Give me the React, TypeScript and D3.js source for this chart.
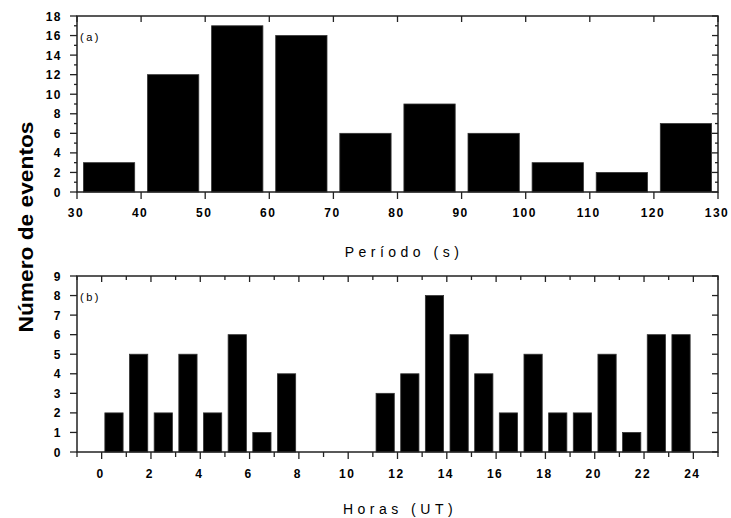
import React from "react";
import * as d3 from "d3";

const periodCenters = [35, 45, 55, 65, 75, 85, 95, 105, 115, 125];
const periodCounts = [3, 12, 17, 16, 6, 9, 6, 3, 2, 7];
const periodTicks = [30, 40, 50, 60, 70, 80, 90, 100, 110, 120, 130];
const periodYTicks = [0, 2, 4, 6, 8, 10, 12, 14, 16, 18];

const hourCenters = [0.5, 1.5, 2.5, 3.5, 4.5, 5.5, 6.5, 7.5, 8.5, 9.5, 10.5, 11.5, 12.5, 13.5, 14.5, 15.5, 16.5, 17.5, 18.5, 19.5, 20.5, 21.5, 22.5, 23.5];
const hourCounts = [2, 5, 2, 5, 2, 6, 1, 4, 0, 0, 0, 3, 4, 8, 6, 4, 2, 5, 2, 2, 5, 1, 6, 6];
const hourTicks = [0, 2, 4, 6, 8, 10, 12, 14, 16, 18, 20, 22, 24];
const hourYTicks = [0, 1, 2, 3, 4, 5, 6, 7, 8, 9];

const L = 77, R = 718;
const tickFont = "'Liberation Sans', Arial, sans-serif";
const frame = "#222";

function Panel({ top, bottom, xDomain, yDomain, centers, counts, halfW, xTicks, xMinor, yTicks, yMinor, label, title, titleY, titleX, xLabelY, xMinorLen }: any) {
  const x = d3.scaleLinear().domain(xDomain).range([L, R]);
  const y = d3.scaleLinear().domain(yDomain).range([bottom, top]);
  return (
    <g>
      {centers.map((c: number, i: number) =>
        counts[i] > 0 ? (
          <rect key={i} x={x(c - halfW)} y={y(counts[i])} width={x(c + halfW) - x(c - halfW)} height={y(0) - y(counts[i])} fill="#000" stroke="#333" strokeWidth={0.8} />
        ) : null
      )}
      <rect x={L} y={top} width={R - L} height={bottom - top} fill="none" stroke={frame} strokeWidth={1.5} />
      {yMinor.map((v: number) => (
        <g key={"ym" + v}>
          <line x1={L - 3} x2={L} y1={y(v)} y2={y(v)} stroke={frame} strokeWidth={1.3} />
          <line x1={R - 3} x2={R} y1={y(v)} y2={y(v)} stroke={frame} strokeWidth={1.3} />
        </g>
      ))}
      {yTicks.map((v: number) => (
        <g key={"y" + v}>
          <line x1={L - 7} x2={L} y1={y(v)} y2={y(v)} stroke={frame} strokeWidth={1.3} />
          <line x1={R - 6} x2={R} y1={y(v)} y2={y(v)} stroke={frame} strokeWidth={1.3} />
          <text x={L - 15} y={y(v) + 4.5} textAnchor="end" fontFamily={tickFont} fontWeight="bold" fontSize={12} letterSpacing={1.5} fill="#000">{v}</text>
        </g>
      ))}
      {xMinor.map((v: number) => (
        <g key={"xm" + v}>
          <line x1={x(v)} x2={x(v)} y1={top} y2={top + 4} stroke={frame} strokeWidth={1.3} />
          <line x1={x(v)} x2={x(v)} y1={bottom} y2={bottom + xMinorLen} stroke={frame} strokeWidth={1.3} />
        </g>
      ))}
      {xTicks.map((v: number) => (
        <g key={"x" + v}>
          <line x1={x(v)} x2={x(v)} y1={top} y2={top + 6} stroke={frame} strokeWidth={1.3} />
          <line x1={x(v)} x2={x(v)} y1={bottom} y2={bottom + 7} stroke={frame} strokeWidth={1.3} />
          <text x={x(v) - 1} y={xLabelY} textAnchor="middle" fontFamily={tickFont} fontWeight="bold" fontSize={12} letterSpacing={1.5} fill="#000">{v}</text>
        </g>
      ))}
      <text x={L + 3} y={top + 25} fontFamily={tickFont} fontSize={11} letterSpacing={2.5} fill="#000">{label}</text>
      <text x={titleX} y={titleY} textAnchor="middle" fontFamily={tickFont} fontSize={14} letterSpacing={4.5} fill="#000">{title}</text>
    </g>
  );
}

export default function App() {
  const yMinorA = d3.range(1, 18, 2);
  const hourMinor = d3.range(-1, 26, 2);
  return (
    <svg width={731} height={518} style={{ position: "absolute", left: 0, top: 0, background: "#fff" }}>
      <Panel top={16} bottom={192} xDomain={[30, 130]} yDomain={[0, 18]} centers={periodCenters} counts={periodCounts} halfW={4}
        xTicks={periodTicks} xMinor={[]} yTicks={periodYTicks} yMinor={yMinorA} label="(a)" title="Período (s)" titleX={404} titleY={257} xLabelY={217} xMinorLen={4} />
      <Panel top={276} bottom={452} xDomain={[-1, 25]} yDomain={[0, 9]} centers={hourCenters} counts={hourCounts} halfW={0.37}
        xTicks={hourTicks} xMinor={hourMinor} yTicks={hourYTicks} yMinor={[]} label="(b)" title="Horas (UT)" titleX={400} titleY={514} xLabelY={478} xMinorLen={5} />
      <text transform="translate(33,227) rotate(-90)" textAnchor="middle" fontFamily="'Liberation Sans', Arial, sans-serif" fontWeight="bold" fontSize={20} textLength={211} lengthAdjust="spacingAndGlyphs" fill="#000">Número de eventos</text>
    </svg>
  );
}
